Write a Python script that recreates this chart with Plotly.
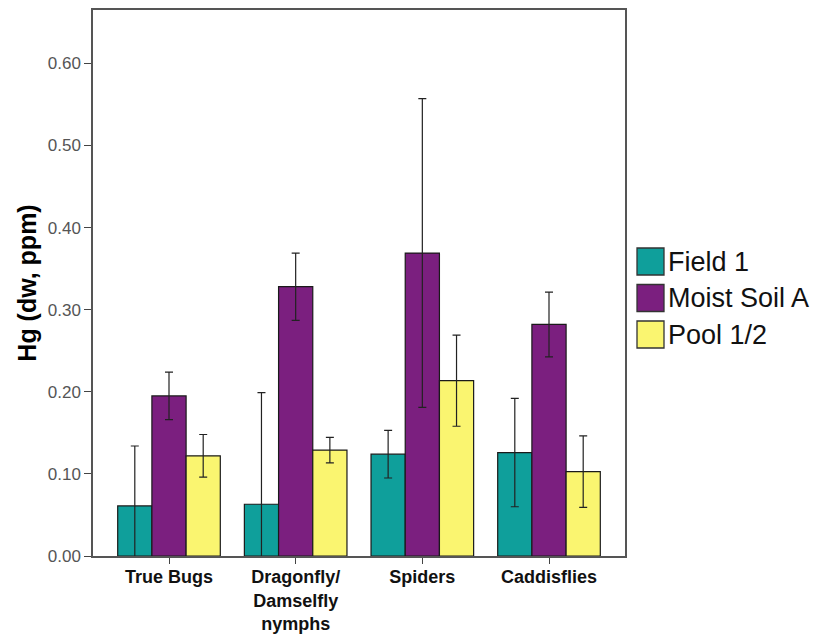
import plotly.graph_objects as go

categories = ["True Bugs", "Dragonfly/<br>Damselfly<br>nymphs", "Spiders", "Caddisflies"]
series_names = ["Field 1", "Moist Soil A", "Pool 1/2"]
field1 = [0.061, 0.063, 0.124, 0.126]
field1_err = [0.073, 0.136, 0.029, 0.066]
moist = [0.195, 0.328, 0.369, 0.282]
moist_err = [0.029, 0.041, 0.188, 0.0395]
pool = [0.122, 0.129, 0.2135, 0.1027]
pool_err = [0.026, 0.0155, 0.0555, 0.0435]
y_ticks = [0.0, 0.1, 0.2, 0.3, 0.4, 0.5, 0.6]

colors = ["#0F9F9B", "#7B1F7F", "#FAF570"]
values = [field1, moist, pool]
errors = [field1_err, moist_err, pool_err]

FONT = "Arial, Liberation Sans, sans-serif"

fig = go.Figure()
for name, vals, errs, col in zip(series_names, values, errors, colors):
    fig.add_trace(go.Bar(
        name=name, x=categories, y=vals, showlegend=False,
        marker=dict(color=col, line=dict(color="#1a1a1a", width=1.2)),
        error_y=dict(type="data", array=errs, visible=True, color="#222222",
                     thickness=1.2, width=4),
    ))

# custom legend with large swatches (plot area is 532 x 546 px)
PW, PH = 532.0, 546.0
sw_x0, sw_size, row_step, top0 = 544.0, 27.0, 36.5, 308.0
for i, (name, col) in enumerate(zip(series_names, colors)):
    top = top0 - i * row_step
    fig.add_shape(type="rect", xref="paper", yref="paper",
                  x0=sw_x0 / PW, x1=(sw_x0 + sw_size) / PW,
                  y0=(top - sw_size) / PH, y1=top / PH,
                  fillcolor=col, line=dict(color="#333", width=1.3))
    fig.add_annotation(xref="paper", yref="paper",
                       x=(sw_x0 + sw_size + 2) / PW, y=(top - sw_size / 2) / PH,
                       xanchor="left", yanchor="middle", showarrow=False,
                       text=name, font=dict(size=27, color="#111", family=FONT))

fig.update_layout(
    width=819, height=630,
    barmode="group", bargap=0.19, bargroupgap=0,
    plot_bgcolor="white", paper_bgcolor="white",
    margin=dict(l=85, r=202, t=2, b=82),
    font=dict(family=FONT, color="#000"),
    showlegend=False,
    xaxis=dict(range=[-0.6, 3.6], showline=True, linecolor="#555", linewidth=1.5,
               mirror=True, ticks="outside", ticklen=6, tickcolor="#444",
               tickfont=dict(size=18, color="#111", family=FONT),
               tickprefix="<b>", ticksuffix="</b>", ticklabelstandoff=-2,
               showgrid=False, automargin=False),
    yaxis=dict(range=[0, 0.665], tickvals=y_ticks, tickformat=".2f",
               showline=True, linecolor="#555", linewidth=1.5, mirror=True,
               ticks="outside", ticklen=7, tickcolor="#444",
               tickfont=dict(size=17, color="#555"),
               showgrid=False, zeroline=False, automargin=False,
               title=dict(text="<b>Hg (dw, ppm)</b>", font=dict(size=25, color="#000"), standoff=4)),
)

fig.write_html("out.html")
